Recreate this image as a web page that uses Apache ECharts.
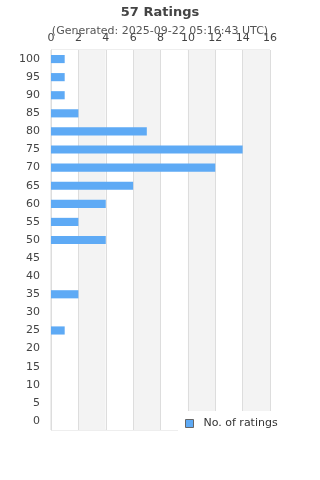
<!DOCTYPE html>
<html>
<head>
<meta charset="UTF-8">
<title>57 Ratings</title>
<style>
    html, body { margin: 0; padding: 0; background: #fff; }
    #chart { width: 320px; height: 480px; }
</style>
<script src="https://cdn.jsdelivr.net/npm/echarts@6/dist/echarts.min.js"></script>
</head>
<body>
<div id="chart"></div>
<script>
// ratings buckets, bottom to top
const ratings = ['0', '5', '10', '15', '20', '25', '30', '35', '40', '45', '50',
                 '55', '60', '65', '70', '75', '80', '85', '90', '95', '100'];
const counts = [0, 0, 0, 0, 0, 1, 0, 2, 0, 0, 4,
                2, 4, 6, 12, 14, 7, 2, 1, 1, 1];
const seriesName = 'No. of ratings';

const font = 'DejaVu Sans';

const chart = echarts.init(document.getElementById('chart'));
chart.setOption({
    animation: false,
    textStyle: { fontFamily: font },
    title: {
        text: '57 Ratings',
        subtext: '(Generated: 2025-09-22 05:16:43 UTC)',
        left: 'center',
        top: 1,
        itemGap: 7,
        textStyle: { fontSize: 13, fontWeight: 'bold', color: '#444', fontFamily: font },
        subtextStyle: { fontSize: 11, color: '#555', fontFamily: font }
    },
    grid: { left: 51, right: 50, top: 50, bottom: 50, show: true, borderColor: '#ddd', borderWidth: 1 },
    xAxis: {
        type: 'value',
        position: 'top',
        min: 0,
        max: 16,
        interval: 2,
        axisLine: { show: false },
        axisTick: { show: false },
        axisLabel: { color: '#444', fontSize: 11, margin: 6 },
        splitLine: { show: true, lineStyle: { color: '#ddd' } },
        splitArea: { show: true, areaStyle: { color: ['#fff', '#f3f3f3'] } }
    },
    yAxis: {
        type: 'category',
        data: ratings,
        axisLine: { show: true, lineStyle: { color: '#ddd' } },
        axisTick: { show: false },
        axisLabel: { color: '#444', fontSize: 11, margin: 11 }
    },
    legend: {
        data: [seriesName],
        left: 178,
        top: 411,
        padding: [7, 8, 8, 7],
        backgroundColor: '#fff',
        itemWidth: 8,
        itemHeight: 8,
        icon: 'rect',
        itemStyle: { borderColor: '#666', borderWidth: 1 },
        textStyle: { fontSize: 11, color: '#333', padding: [0, 0, 0, 5] }
    },
    series: [{
        name: seriesName,
        type: 'bar',
        data: counts,
        barWidth: '45%',
        itemStyle: { color: '#5eaaf5' }
    }]
});
</script>
</body>
</html>
